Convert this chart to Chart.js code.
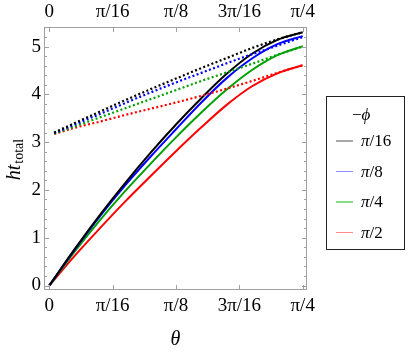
<!DOCTYPE html>
<html>
<head>
<meta charset="utf-8">
<script src="https://cdn.jsdelivr.net/npm/chart.js@4/dist/chart.umd.min.js"></script>
<style>
  html, body { margin: 0; padding: 0; background: #fff; }
  #wrap { position: relative; width: 415px; height: 353px; }
  #legend {
    position: absolute; left: 326px; top: 96px; width: 77px; height: 152px;
    border: 1.5px solid #222; font-family: "Liberation Serif", serif; font-size: 17px; color: #000;
  }
  #legend .row { position: absolute; left: 0; height: 20px; line-height: 20px; }
  #legend .sw { position: absolute; left: 9px; top: 9px; width: 17px; height: 1.5px; }
  #legend .lbl { position: absolute; left: 34px; top: 0; white-space: nowrap; }
  #legend .ttl { position: absolute; left: 25px; top: 8px; white-space: nowrap; }
</style>
</head>
<body>
<div id="wrap">
  <canvas id="grafico" width="415" height="353"></canvas>
  <div id="legend"></div>
</div>
<script>
// --- dados ---
const thetaSolid = [0, 0.0785, 0.1571, 0.2356, 0.3142, 0.3927, 0.4712, 0.5498, 0.6283, 0.7069, 0.7854];
const thetaDotted = [0.015, 0.0785, 0.1571, 0.2356, 0.3142, 0.3927, 0.4712, 0.5498, 0.6283, 0.7069, 0.7854];

const solidPi16 = [0, 0.76, 1.48, 2.15, 2.78, 3.37, 3.92, 4.43, 4.85, 5.14, 5.30];
const solidPi8  = [0, 0.745, 1.45, 2.10, 2.70, 3.27, 3.83, 4.34, 4.75, 5.05, 5.22];
const solidPi4  = [0, 0.71, 1.37, 1.98, 2.55, 3.10, 3.62, 4.10, 4.51, 4.82, 5.01];
const solidPi2  = [0, 0.62, 1.20, 1.76, 2.29, 2.81, 3.31, 3.78, 4.17, 4.44, 4.61];

const dotPi16 = [3.20, 3.40, 3.64, 3.88, 4.11, 4.33, 4.55, 4.76, 4.97, 5.15, 5.30];
const dotPi8  = [3.19, 3.37, 3.59, 3.82, 4.04, 4.25, 4.45, 4.65, 4.84, 5.02, 5.20];
const dotPi4  = [3.18, 3.33, 3.52, 3.71, 3.90, 4.09, 4.28, 4.46, 4.64, 4.83, 5.00];
const dotPi2  = [3.17, 3.30, 3.43, 3.57, 3.70, 3.83, 3.97, 4.12, 4.28, 4.45, 4.61];

const seriesLabels = ['π/16', 'π/8', 'π/4', 'π/2'];
const xTickValues = [0, 0.19635, 0.3927, 0.58905, 0.7854];
const xTickLabels = ['0', 'π/16', 'π/8', '3π/16', 'π/4'];
const yTickValues = [0, 1, 2, 3, 4, 5];

// --- estilos ---
const cores = ['#000000', '#0000ff', '#00a000', '#ff0000'];
const coresLegenda = ['#a8a8a8', '#8c8cff', '#88dd88', '#ff8c8c'];
const fonte = '"Liberation Serif", "DejaVu Serif", serif';

const pontos = (xs, ys) => xs.map((x, i) => ({ x: x, y: ys[i] }));

const solidas = [solidPi16, solidPi8, solidPi4, solidPi2];
const pontilhadas = [dotPi16, dotPi8, dotPi4, dotPi2];

const datasets = [];
pontilhadas.forEach((ys, i) => {
  datasets.push({
    label: seriesLabels[i] + ' dotted',
    data: pontos(thetaDotted, ys),
    borderColor: cores[i],
    borderWidth: 2.2,
    borderDash: [2, 2.4],
    pointRadius: 0,
    cubicInterpolationMode: 'monotone'
  });
});
solidas.forEach((ys, i) => {
  datasets.push({
    label: seriesLabels[i],
    data: pontos(thetaSolid, ys),
    borderColor: cores[i],
    borderWidth: 2,
    pointRadius: 0,
    cubicInterpolationMode: 'monotone'
  });
});

// moldura, marcas de escala e títulos dos eixos
const molduraPlugin = {
  id: 'moldura',
  afterDatasetsDraw(chart) {
    const { ctx, chartArea: a, scales } = chart;
    ctx.save();
    ctx.strokeStyle = '#a0a0a0';
    ctx.lineWidth = 1;
    ctx.strokeRect(a.left + 0.5, a.top + 0.5, a.right - a.left - 1, a.bottom - a.top - 1);

    ctx.beginPath();
    // marcas em y (maiores a cada 1, menores a cada 0.2)
    for (let k = 0; k <= 27; k++) {
      const v = k / 5;
      const y = Math.round(scales.y.getPixelForValue(v)) + 0.5;
      const len = (k % 5 === 0) ? 5 : 3;
      ctx.moveTo(a.left, y); ctx.lineTo(a.left + len, y);
      ctx.moveTo(a.right, y); ctx.lineTo(a.right - len, y);
    }
    // marcas em x
    xTickValues.forEach(v => {
      const x = Math.round(scales.x.getPixelForValue(v)) + 0.5;
      ctx.moveTo(x, a.bottom); ctx.lineTo(x, a.bottom - 5);
      ctx.moveTo(x, a.top); ctx.lineTo(x, a.top + 5);
    });
    ctx.stroke();

    // título do eixo x
    ctx.fillStyle = '#000';
    ctx.font = 'italic 20px ' + fonte;
    ctx.textAlign = 'center';
    ctx.textBaseline = 'alphabetic';
    ctx.fillText('θ', (a.left + a.right) / 2, 345);

    // título do eixo y: ht com subscrito "total"
    ctx.translate(20, (a.top + a.bottom) / 2 + 1);
    ctx.rotate(-Math.PI / 2);
    ctx.font = 'italic 20px ' + fonte;
    const w1 = ctx.measureText('ht').width;
    ctx.font = '14px ' + fonte;
    const w2 = ctx.measureText('total').width;
    const x0 = -(w1 + w2 + 1) / 2;
    ctx.textAlign = 'left';
    ctx.font = 'italic 20px ' + fonte;
    ctx.fillText('ht', x0, 0);
    ctx.font = '14px ' + fonte;
    ctx.fillText('total', x0 + w1 + 1, 3);
    ctx.restore();
  }
};

const fixarTicks = (valores) => (scale) => {
  scale.ticks = valores.map(v => ({ value: v }));
};

const eixoX = (posicao, altura, padding) => ({
  type: 'linear',
  position: posicao,
  min: -0.0164,
  max: 0.7987,
  grid: { display: false, drawTicks: false },
  border: { display: false },
  ticks: {
    color: '#000',
    font: { family: fonte, size: 19 },
    padding: padding,
    maxRotation: 0,
    autoSkip: false,
    callback: (v) => {
      const i = xTickValues.findIndex(t => Math.abs(t - v) < 1e-4);
      return i >= 0 ? xTickLabels[i] : '';
    }
  },
  afterBuildTicks: fixarTicks(xTickValues),
  afterFit: (s) => { s.height = altura; }
});

new Chart(document.getElementById('grafico').getContext('2d'), {
  type: 'line',
  data: { datasets: datasets },
  options: {
    responsive: false,
    animation: false,
    events: [],
    layout: { padding: { left: 0, top: 0, right: 108, bottom: 0 } },
    plugins: { legend: { display: false }, tooltip: { enabled: false } },
    scales: {
      x: eixoX('bottom', 63, 5),
      x2: eixoX('top', 27, 4),
      y: {
        type: 'linear',
        min: -0.094,
        max: 5.41,
        grid: { display: false, drawTicks: false },
        border: { display: false },
        ticks: {
          color: '#000',
          font: { family: fonte, size: 19 },
          padding: 3,
          callback: (v) => String(v)
        },
        afterBuildTicks: fixarTicks(yTickValues),
        afterFit: (s) => { s.width = 44; }
      }
    }
  },
  plugins: [molduraPlugin]
});

// legenda
const legenda = document.getElementById('legend');
legenda.innerHTML = '<div class="ttl">−<i>ϕ</i></div>' +
  seriesLabels.map((l, i) => {
    const topo = 34 + i * 30.5;
    return '<div class="row" style="top:' + topo + 'px;width:77px">' +
      '<div class="sw" style="background:' + coresLegenda[i] + '"></div>' +
      '<div class="lbl"><i>π</i>' + l.slice(1) + '</div></div>';
  }).join('');
</script>
</body>
</html>
